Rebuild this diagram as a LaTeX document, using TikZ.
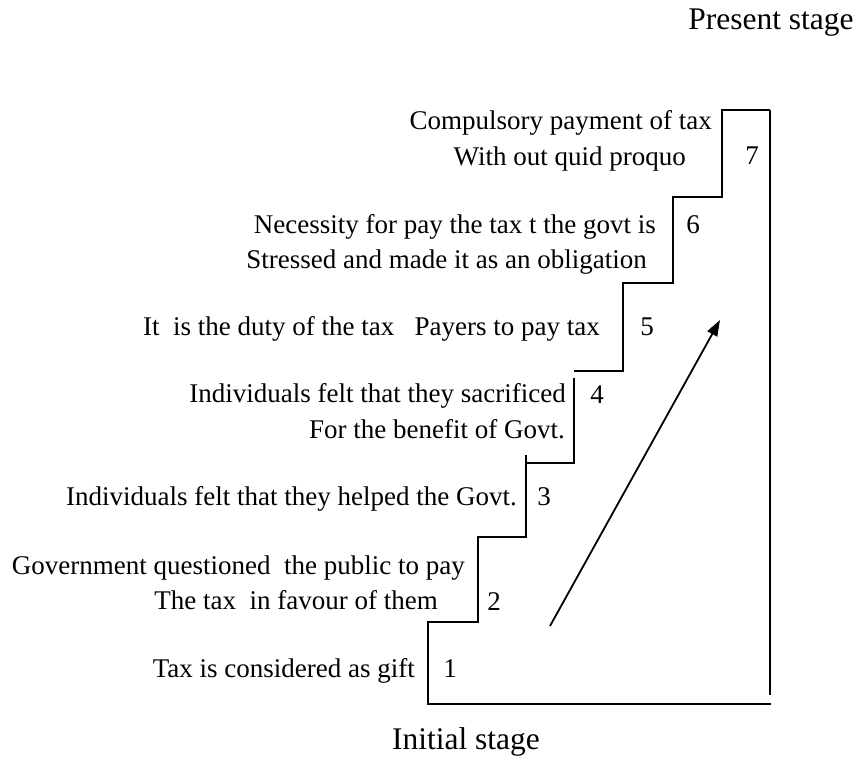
\documentclass[tikz,border=0pt]{standalone}
\usepackage{fontspec}
\setmainfont{Liberation Serif}
\usetikzlibrary{arrows.meta}
\tikzset{
  lbl/.style={anchor=mid east, inner sep=0pt, font=\fontsize{27}{32}\selectfont},
  num/.style={anchor=mid, inner sep=0pt, font=\fontsize{27}{32}\selectfont},
  stage/.style={anchor=mid, inner sep=0pt, font=\fontsize{31.5}{36}\selectfont},
  stair/.style={line width=1.8pt, line join=miter},
  climb/.style={line width=1.8pt, -{Triangle[length=16pt,width=11pt]}}
}
\begin{document}
\begin{tikzpicture}[x=1pt,y=-1pt]
\useasboundingbox (0,0) rectangle (861,768);
% staircase
\draw[stair] (770,110) -- (722,110) -- (722,197) -- (673,197) -- (673,283) -- (623,283) -- (623,371) -- (574,371);
\draw[stair] (574,378) -- (574,463) -- (526,463);
\draw[stair] (526,455) -- (526,537) -- (478,537) -- (478,622) -- (428,622) -- (428,704) -- (771,704);
\draw[stair] (770,110) -- (770,695);
% arrow
\coordinate (from) at (550,626);
\coordinate (to) at (720,320);
\draw[climb] (from) -- (to);
% stage labels
\node[stage] (present) at (771,27) {Present stage};
\node[stage] (initial) at (466,747) {Initial stage};
% step labels
\node[lbl] (l7a) at (712,127) {Compulsory payment of tax};
\node[lbl] (l7b) at (686,163) {With out quid proquo};
\node[lbl] (l6a) at (656,231) {Necessity for pay the tax t the govt is};
\node[lbl] (l6b) at (647,266) {Stressed and made it as an obligation};
\node[lbl] (l5) at (600,333) {It\ \ is the duty of the tax\ \ \ Payers to pay tax};
\node[lbl] (l4a) at (566,400) {Individuals felt that they sacrificed};
\node[lbl] (l4b) at (565,436) {For the benefit of Govt.};
\node[lbl] (l3) at (517,503) {Individuals felt that they helped the Govt.};
\node[lbl] (l2a) at (465,572) {Government questioned\ \ the public to pay};
\node[lbl] (l2b) at (438,607) {The tax\ \ in favour of them};
\node[lbl] (l1) at (415,675) {Tax is considered as gift};
% numbers
\node[num] (n7) at (752,162) {7};
\node[num] (n6) at (693,231) {6};
\node[num] (n5) at (647,333) {5};
\node[num] (n4) at (597,401) {4};
\node[num] (n3) at (544,503) {3};
\node[num] (n2) at (494,608) {2};
\node[num] (n1) at (450,675) {1};
\end{tikzpicture}
\end{document}
